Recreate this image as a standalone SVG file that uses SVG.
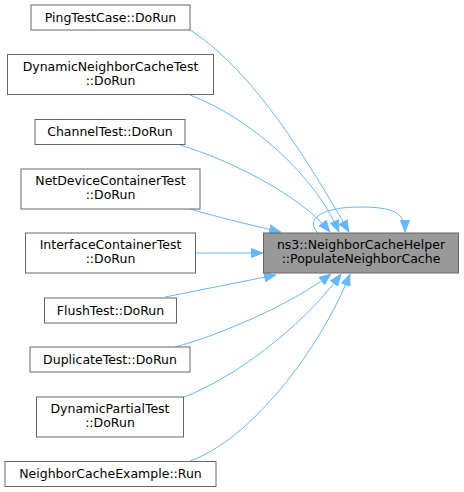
<svg xmlns="http://www.w3.org/2000/svg" width="464" height="492" viewBox="0 0 464 492">
<style>
.n rect{fill:#ffffff;stroke:#666666;stroke-width:1}
.n.m rect{fill:#999999}
text{font-family:"DejaVu Sans","Liberation Sans",sans-serif;font-size:12.5px;fill:#000000;text-anchor:middle}
.e path{fill:none;stroke:#63b8ff;stroke-width:1;marker-end:url(#ah)}
</style>
<defs>
<marker id="ah" markerUnits="userSpaceOnUse" viewBox="0 0 12 10" markerWidth="12" markerHeight="10" refX="12" refY="5" orient="auto">
<path d="M0.5,0.5 L11.5,5 L0.5,9.5 z" fill="#63b8ff" stroke="#63b8ff" stroke-width="1"/>
</marker>
</defs>
<g class="e" id="edges">
<path d="M190,29.7 C255,72 309,163 349,232"/>
<path d="M190,95 C250,118 315,175 339,232"/>
<path d="M180,145 C230,160 300,195 330,232"/>
<path d="M190,209 C210,215 250,225 281,232"/>
<path d="M195,253 L263,253"/>
<path d="M165,297 C190,292 240,282 276,275"/>
<path d="M175,347 C220,335 290,305 331,274"/>
<path d="M184,397 C230,380 300,330 341,274"/>
<path d="M190,461 C250,440 320,350 350,274"/>
<path d="M318,233 C305,220 320,207 360,207 C392,207 405,212 405,232"/>
</g>
<g class="n m" id="main"><rect x="263.5" y="233" width="195" height="40"/><text x="361" y="248.5">ns3::NeighborCacheHelper</text><text x="361" y="262.5">::PopulateNeighborCache</text></g>
<g class="n" id="n1"><rect x="31" y="5" width="159" height="25"/><text x="110.5" y="21.5">PingTestCase::DoRun</text></g>
<g class="n" id="n2"><rect x="7.5" y="54.5" width="206" height="40"/><text x="110.5" y="70.5">DynamicNeighborCacheTest</text><text x="110.5" y="84.5">::DoRun</text></g>
<g class="n" id="n3"><rect x="35" y="119.5" width="150" height="25"/><text x="110" y="136">ChannelTest::DoRun</text></g>
<g class="n" id="n4"><rect x="21" y="169" width="179" height="40"/><text x="110.5" y="185">NetDeviceContainerTest</text><text x="110.5" y="199">::DoRun</text></g>
<g class="n" id="n5"><rect x="25.5" y="233" width="170" height="40"/><text x="110.5" y="248.5">InterfaceContainerTest</text><text x="110.5" y="262.5">::DoRun</text></g>
<g class="n" id="n6"><rect x="44.5" y="298" width="132" height="25"/><text x="110.5" y="314.5">FlushTest::DoRun</text></g>
<g class="n" id="n7"><rect x="30" y="347" width="160" height="25"/><text x="110" y="363.5">DuplicateTest::DoRun</text></g>
<g class="n" id="n8"><rect x="36.5" y="397" width="147" height="40"/><text x="110" y="413">DynamicPartialTest</text><text x="110" y="427">::DoRun</text></g>
<g class="n" id="n9"><rect x="5" y="461.5" width="211" height="25"/><text x="110.5" y="478">NeighborCacheExample::Run</text></g>
</svg>
